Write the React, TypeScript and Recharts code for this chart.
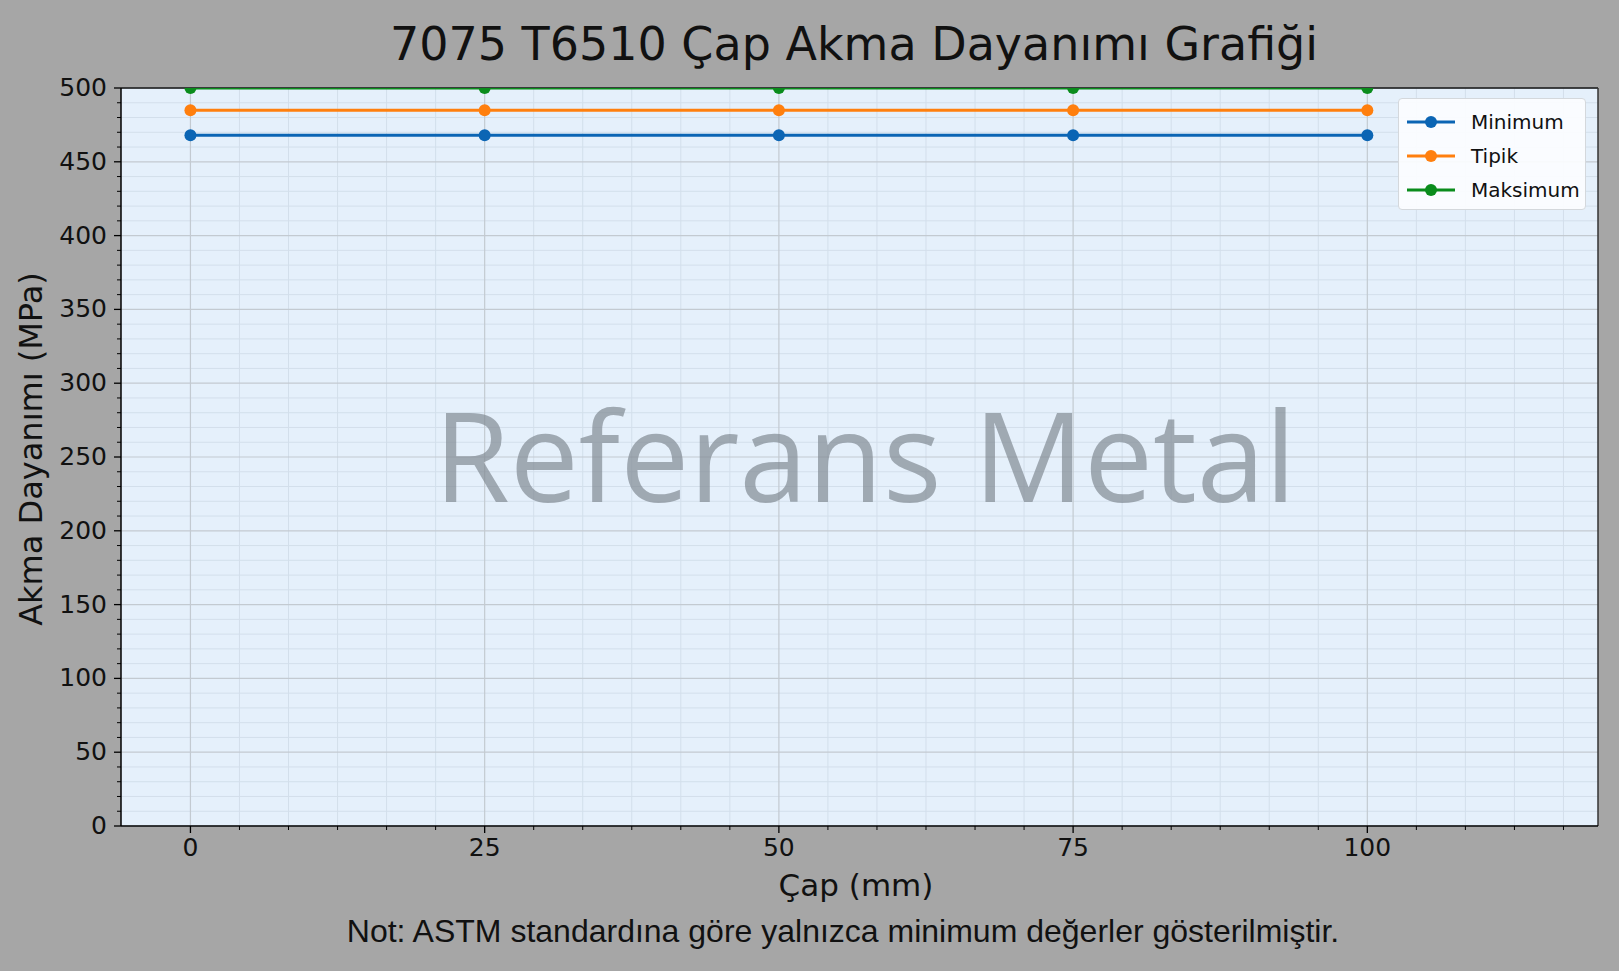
import { LineChart, Line, XAxis, YAxis, CartesianGrid, Legend, ReferenceLine } from 'recharts'

// diameters (mm) and yield strength values (MPa)
const diameters = [0, 25, 50, 75, 100]
const minimumValues = [468, 468, 468, 468, 468]
const typicalValues = [485, 485, 485, 485, 485]
const maximumValues = [500, 500, 500, 500, 500]
const seriesNames = ['Minimum', 'Tipik', 'Maksimum']

const xMajorTicks = [0, 25, 50, 75, 100]
const yMajorTicks = [0, 50, 100, 150, 200, 250, 300, 350, 400, 450, 500]
const xMinorTicks = Array.from({ length: 28 }, (_, i) => ((i + 1) * 25) / 6).filter((_, i) => (i + 1) % 6 !== 0)
const yMinorTicks = Array.from({ length: 51 }, (_, i) => i * 10).filter((v) => v % 50 !== 0)

const data = diameters.map((d, i) => ({
	cap: d,
	min: minimumValues[i],
	tip: typicalValues[i],
	max: maximumValues[i],
}))

const W = 1619
const H = 971
const X_DOMAIN: [number, number] = [-5.9, 119.6]

const YTick = (props: any) => {
	const { x, y, payload } = props
	const major = payload.value % 50 === 0
	return (
		<g>
			<line x1={x - (major ? 7 : 4)} x2={x} y1={y} y2={y} stroke='#000' strokeWidth={major ? 1.3 : 1} />
			{major && (
				<text x={x - 14} y={y} dy={8} textAnchor='end' fontSize={25} fill='#111' fontFamily='DejaVu Sans'>
					{payload.value}
				</text>
			)}
		</g>
	)
}

const XTick = (props: any) => {
	const { x, y, payload } = props
	const major = xMajorTicks.includes(payload.value)
	return (
		<g>
			<line x1={x} x2={x} y1={y} y2={y + (major ? 7 : 4)} stroke='#000' strokeWidth={major ? 1.3 : 1} />
			{major && (
				<text x={x} y={y + 30} textAnchor='middle' fontSize={25} fill='#111' fontFamily='DejaVu Sans'>
					{payload.value}
				</text>
			)}
		</g>
	)
}

const LegendBox = ({ payload }: any) => {
	const items = [...(payload || [])].sort((a: any, b: any) => seriesNames.indexOf(a.value) - seriesNames.indexOf(b.value))
	return (
		<div
			style={{
				width: 188,
				height: 112,
				boxSizing: 'border-box',
				background: 'rgba(252,253,255,0.92)',
				border: '1px solid #d4d8dc',
				borderRadius: 4,
				paddingTop: 6,
			}}
		>
			{items.map((p: any) => (
				<div key={p.value} style={{ display: 'flex', alignItems: 'center', height: 34 }}>
					<svg width={66} height={20} style={{ marginLeft: 6 }}>
						<line x1={2} x2={50} y1={10} y2={10} stroke={p.color} strokeWidth={3} />
						<circle cx={26} cy={10} r={6} fill={p.color} />
					</svg>
					<span style={{ fontFamily: 'DejaVu Sans', fontSize: 20, color: '#111' }}>{p.value}</span>
				</div>
			))}
		</div>
	)
}

export default function App() {
	return (
		<div style={{ position: 'absolute', left: 0, top: 0, width: W, height: H, background: '#a6a6a6' }}>
			<LineChart width={W} height={H} data={data} margin={{ top: 88, right: 21, bottom: 95, left: 21 }}>
				<CartesianGrid
					fill='#e5f0fb'
					stroke='#d3dfeb'
					strokeWidth={1}
					horizontalValues={yMinorTicks}
					verticalValues={xMinorTicks}
				/>
				<CartesianGrid
					stroke='#c3cad1'
					strokeWidth={1.2}
					horizontalValues={yMajorTicks}
					verticalValues={xMajorTicks}
				/>
				<XAxis
					dataKey='cap'
					type='number'
					domain={X_DOMAIN}
					ticks={[...xMajorTicks, ...xMinorTicks]}
					interval={0}
					tickSize={0}
					tickMargin={0}
					tickLine={false}
					tick={<XTick />}
					height={50}
					axisLine={{ stroke: '#000', strokeWidth: 1.5 }}
					allowDataOverflow
				/>
				<YAxis
					type='number'
					domain={[0, 500]}
					ticks={[...yMajorTicks, ...yMinorTicks]}
					interval={0}
					tickSize={0}
					tickMargin={0}
					tickLine={false}
					tick={<YTick />}
					width={100}
					axisLine={{ stroke: '#000', strokeWidth: 1.5 }}
					allowDataOverflow
				/>
				<ReferenceLine y={500} stroke='#111' strokeWidth={1.5} ifOverflow='visible' />
				<ReferenceLine x={X_DOMAIN[1]} stroke='#333' strokeWidth={1.5} ifOverflow='visible' />
				<Legend
					layout='vertical'
					align='center'
					verticalAlign='middle'
					content={<LegendBox />}
					wrapperStyle={{ position: 'absolute', left: 1398, top: 98, width: 188 }}
				/>
				<Line
					name='Minimum'
					dataKey='min'
					stroke='#0b65b4'
					strokeWidth={3}
					dot={{ r: 6, fill: '#0b65b4', stroke: 'none' }}
					isAnimationActive={false}
				/>
				<Line
					name='Tipik'
					dataKey='tip'
					stroke='#ff7f0e'
					strokeWidth={3}
					dot={{ r: 6, fill: '#ff7f0e', stroke: 'none' }}
					isAnimationActive={false}
				/>
				<Line
					name='Maksimum'
					dataKey='max'
					stroke='#0a8c1c'
					strokeWidth={3}
					dot={{ r: 6, fill: '#0a8c1c', stroke: 'none' }}
					isAnimationActive={false}
				/>
			</LineChart>
			<svg width={W} height={H} style={{ position: 'absolute', left: 0, top: 0, pointerEvents: 'none' }}>
				<text
					x={865}
					y={502}
					textAnchor='middle'
					fontSize={124}
					fontFamily='Open Sans'
					fill='#7f8891'
					opacity={0.68}
					textLength={862}
					lengthAdjust='spacingAndGlyphs'
				>
					Referans Metal
				</text>
				<text x={854} y={60} textAnchor='middle' fontSize={46} fontFamily='DejaVu Sans' fill='#111'>
					7075 T6510 Çap Akma Dayanımı Grafiği
				</text>
				<text x={856} y={896} textAnchor='middle' fontSize={31} fontFamily='DejaVu Sans' fill='#111'>
					Çap (mm)
				</text>
				<text
					transform='translate(42,449) rotate(-90)'
					textAnchor='middle'
					fontSize={32}
					fontFamily='DejaVu Sans'
					fill='#111'
				>
					Akma Dayanımı (MPa)
				</text>
				<text x={843} y={942} textAnchor='middle' fontSize={32} fontFamily='Liberation Sans' fill='#111'>
					Not: ASTM standardına göre yalnızca minimum değerler gösterilmiştir.
				</text>
			</svg>
		</div>
	)
}
